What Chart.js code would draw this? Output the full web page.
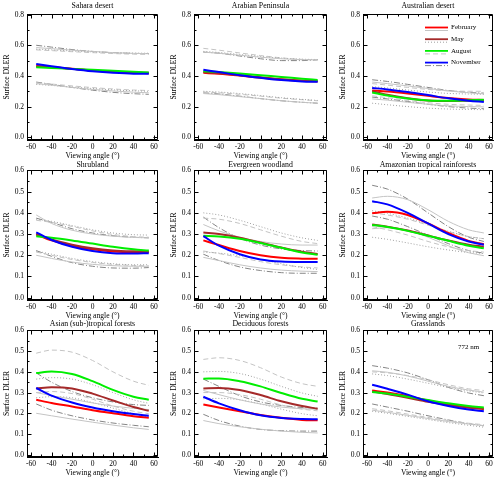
<!DOCTYPE html>
<html>
<head>
<meta charset="utf-8">
<script src="https://cdn.jsdelivr.net/npm/chart.js@4.4.1/dist/chart.umd.min.js"></script>
<style>
body { margin: 0; background: #fff; }
#wrap { position: relative; width: 500px; height: 480px; overflow: hidden; }
#wrap canvas { position: absolute; }
</style>
</head>
<body>
<div id="wrap"></div>
<script>
// viewing angles where the curves are sampled
var angles = [-55, -40, -20, 0, 20, 40, 55];
var xTicks = [-60, -40, -20, 0, 20, 40, 60];
var yTicksTop = [0, 0.2, 0.4, 0.6, 0.8];
var yTicksLow = [0, 0.1, 0.2, 0.3, 0.4, 0.5, 0.6];
var months = ['February', 'May', 'August', 'November'];
var titles = ['Sahara desert', 'Arabian Peninsula', 'Australian desert',
              'Shrubland', 'Evergreen woodland', 'Amazonian tropical rainforests',
              'Asian (sub-)tropical forests', 'Deciduous forests', 'Grasslands'];

// each: [February, May, August, November]
var saharaMid = [[0.465, 0.458, 0.447, 0.436, 0.427, 0.421, 0.418],
                 [0.462, 0.456, 0.446, 0.436, 0.428, 0.422, 0.420],
                 [0.456, 0.452, 0.446, 0.440, 0.433, 0.427, 0.423],
                 [0.478, 0.463, 0.445, 0.430, 0.420, 0.415, 0.415]];
var saharaHigh = [[0.585, 0.578, 0.568, 0.560, 0.552, 0.547, 0.545],
                  [0.575, 0.570, 0.563, 0.557, 0.552, 0.549, 0.548],
                  [0.570, 0.565, 0.558, 0.552, 0.546, 0.542, 0.540],
                  [0.600, 0.588, 0.572, 0.560, 0.552, 0.547, 0.546]];
var saharaLow = [[0.350, 0.340, 0.325, 0.312, 0.302, 0.294, 0.290],
                 [0.345, 0.338, 0.328, 0.318, 0.309, 0.303, 0.300],
                 [0.355, 0.347, 0.335, 0.324, 0.315, 0.308, 0.305],
                 [0.360, 0.345, 0.325, 0.307, 0.293, 0.284, 0.280]];

var arabiaMid = [[0.420, 0.414, 0.402, 0.388, 0.376, 0.368, 0.365],
                 [0.425, 0.418, 0.405, 0.391, 0.378, 0.369, 0.366],
                 [0.430, 0.425, 0.416, 0.405, 0.393, 0.382, 0.373],
                 [0.440, 0.425, 0.405, 0.388, 0.373, 0.364, 0.362]];
var arabiaHigh = [[0.555, 0.548, 0.535, 0.522, 0.512, 0.506, 0.505],
                  [0.560, 0.553, 0.540, 0.527, 0.516, 0.509, 0.507],
                  [0.580, 0.568, 0.550, 0.533, 0.518, 0.508, 0.505],
                  [0.555, 0.548, 0.530, 0.512, 0.500, 0.500, 0.505]];
var arabiaLow = [[0.285, 0.278, 0.265, 0.252, 0.238, 0.228, 0.222],
                 [0.300, 0.295, 0.285, 0.272, 0.258, 0.247, 0.240],
                 [0.295, 0.290, 0.280, 0.268, 0.255, 0.245, 0.238],
                 [0.290, 0.282, 0.268, 0.252, 0.238, 0.228, 0.222]];

var australiaMid = [[0.305, 0.298, 0.285, 0.270, 0.256, 0.247, 0.243],
                    [0.300, 0.277, 0.255, 0.240, 0.236, 0.238, 0.240],
                    [0.292, 0.272, 0.252, 0.240, 0.238, 0.242, 0.245],
                    [0.322, 0.312, 0.295, 0.275, 0.254, 0.238, 0.230]];
var australiaHigh = [[0.360, 0.350, 0.335, 0.318, 0.302, 0.290, 0.283],
                     [0.330, 0.322, 0.308, 0.295, 0.286, 0.282, 0.280],
                     [0.350, 0.340, 0.325, 0.312, 0.303, 0.300, 0.300],
                     [0.375, 0.364, 0.345, 0.325, 0.305, 0.293, 0.288]];
var australiaLow = [[0.250, 0.242, 0.228, 0.215, 0.205, 0.200, 0.198],
                    [0.222, 0.212, 0.200, 0.190, 0.184, 0.181, 0.180],
                    [0.270, 0.258, 0.240, 0.225, 0.215, 0.210, 0.208],
                    [0.262, 0.250, 0.233, 0.215, 0.200, 0.190, 0.186]];

var shrubMid = [[0.298, 0.270, 0.245, 0.228, 0.218, 0.215, 0.215],
                [0.300, 0.274, 0.250, 0.233, 0.223, 0.219, 0.218],
                [0.290, 0.283, 0.270, 0.255, 0.240, 0.228, 0.222],
                [0.308, 0.272, 0.240, 0.220, 0.210, 0.208, 0.210]];
var shrubHigh = [[0.390, 0.350, 0.318, 0.300, 0.290, 0.284, 0.282],
                 [0.370, 0.360, 0.340, 0.320, 0.305, 0.297, 0.295],
                 [0.365, 0.355, 0.336, 0.315, 0.298, 0.288, 0.285],
                 [0.375, 0.355, 0.325, 0.305, 0.292, 0.285, 0.282]];
var shrubLow = [[0.200, 0.185, 0.168, 0.157, 0.151, 0.148, 0.148],
                [0.220, 0.205, 0.185, 0.170, 0.160, 0.155, 0.155],
                [0.215, 0.200, 0.180, 0.166, 0.157, 0.152, 0.150],
                [0.222, 0.195, 0.165, 0.148, 0.140, 0.139, 0.142]];

var evergreenMid = [[0.270, 0.248, 0.220, 0.200, 0.188, 0.184, 0.183],
                    [0.307, 0.300, 0.283, 0.260, 0.237, 0.216, 0.206],
                    [0.292, 0.289, 0.278, 0.258, 0.235, 0.213, 0.202],
                    [0.290, 0.245, 0.205, 0.180, 0.170, 0.168, 0.168]];
var evergreenHigh = [[0.345, 0.315, 0.285, 0.265, 0.253, 0.248, 0.248],
                     [0.400, 0.390, 0.365, 0.335, 0.305, 0.282, 0.270],
                     [0.375, 0.370, 0.350, 0.320, 0.290, 0.265, 0.255],
                     [0.380, 0.330, 0.280, 0.248, 0.230, 0.222, 0.220]];
var evergreenLow = [[0.190, 0.175, 0.155, 0.140, 0.130, 0.125, 0.123],
                    [0.215, 0.210, 0.198, 0.180, 0.160, 0.142, 0.133],
                    [0.220, 0.208, 0.190, 0.170, 0.155, 0.145, 0.140],
                    [0.205, 0.175, 0.145, 0.128, 0.118, 0.115, 0.115]];

var amazonMid = [[0.398, 0.405, 0.390, 0.350, 0.305, 0.268, 0.252],
                 [0.345, 0.335, 0.317, 0.293, 0.270, 0.250, 0.240],
                 [0.343, 0.333, 0.315, 0.292, 0.268, 0.245, 0.233],
                 [0.455, 0.440, 0.400, 0.350, 0.300, 0.265, 0.250]];
var amazonHigh = [[0.470, 0.478, 0.462, 0.415, 0.360, 0.320, 0.305],
                  [0.410, 0.398, 0.375, 0.345, 0.313, 0.288, 0.278],
                  [0.400, 0.390, 0.370, 0.342, 0.312, 0.288, 0.278],
                  [0.530, 0.512, 0.465, 0.400, 0.335, 0.285, 0.265]];
var amazonLow = [[0.325, 0.330, 0.318, 0.285, 0.245, 0.212, 0.198],
                 [0.285, 0.275, 0.258, 0.240, 0.225, 0.213, 0.208],
                 [0.335, 0.320, 0.295, 0.265, 0.240, 0.222, 0.215],
                 [0.385, 0.370, 0.335, 0.295, 0.255, 0.222, 0.210]];

var asiaMid = [[0.265, 0.250, 0.233, 0.215, 0.200, 0.186, 0.178],
               [0.320, 0.326, 0.320, 0.295, 0.262, 0.230, 0.212],
               [0.394, 0.402, 0.390, 0.355, 0.313, 0.280, 0.265],
               [0.322, 0.285, 0.252, 0.228, 0.210, 0.196, 0.188]];
var asiaHigh = [[0.300, 0.285, 0.268, 0.250, 0.235, 0.224, 0.218],
                [0.365, 0.372, 0.365, 0.338, 0.300, 0.265, 0.248],
                [0.490, 0.505, 0.495, 0.455, 0.400, 0.355, 0.335],
                [0.395, 0.350, 0.305, 0.275, 0.255, 0.242, 0.238]];
var asiaLow = [[0.200, 0.188, 0.172, 0.157, 0.143, 0.130, 0.122],
               [0.275, 0.280, 0.275, 0.252, 0.225, 0.198, 0.182],
               [0.300, 0.305, 0.295, 0.268, 0.235, 0.210, 0.198],
               [0.245, 0.215, 0.188, 0.168, 0.153, 0.142, 0.135]];

var deciduousMid = [[0.242, 0.228, 0.210, 0.192, 0.178, 0.168, 0.166],
                    [0.320, 0.322, 0.312, 0.288, 0.258, 0.235, 0.222],
                    [0.367, 0.368, 0.355, 0.330, 0.298, 0.270, 0.257],
                    [0.280, 0.248, 0.215, 0.190, 0.177, 0.172, 0.171]];
var deciduousHigh = [[0.310, 0.290, 0.265, 0.245, 0.230, 0.222, 0.220],
                     [0.400, 0.402, 0.392, 0.365, 0.330, 0.298, 0.282],
                     [0.460, 0.468, 0.455, 0.420, 0.375, 0.343, 0.330],
                     [0.365, 0.330, 0.285, 0.255, 0.238, 0.228, 0.225]];
var deciduousLow = [[0.165, 0.150, 0.135, 0.123, 0.114, 0.108, 0.105],
                    [0.270, 0.272, 0.265, 0.245, 0.220, 0.198, 0.188],
                    [0.300, 0.300, 0.290, 0.268, 0.240, 0.220, 0.212],
                    [0.195, 0.165, 0.138, 0.122, 0.116, 0.114, 0.114]];

var grassMid = [[0.310, 0.300, 0.283, 0.262, 0.243, 0.228, 0.220],
                [0.305, 0.293, 0.275, 0.256, 0.240, 0.228, 0.222],
                [0.303, 0.295, 0.280, 0.264, 0.248, 0.235, 0.228],
                [0.338, 0.318, 0.290, 0.258, 0.235, 0.218, 0.210]];
var grassHigh = [[0.405, 0.398, 0.380, 0.355, 0.330, 0.312, 0.302],
                 [0.390, 0.382, 0.365, 0.345, 0.325, 0.308, 0.298],
                 [0.400, 0.395, 0.382, 0.362, 0.338, 0.318, 0.310],
                 [0.430, 0.418, 0.395, 0.362, 0.325, 0.298, 0.285]];
var grassLow = [[0.215, 0.205, 0.190, 0.175, 0.160, 0.148, 0.140],
                [0.210, 0.200, 0.185, 0.170, 0.155, 0.142, 0.133],
                [0.222, 0.212, 0.196, 0.180, 0.165, 0.152, 0.145],
                [0.245, 0.230, 0.210, 0.188, 0.168, 0.150, 0.140]];

var panels = [
    [saharaMid, saharaHigh, saharaLow],
    [arabiaMid, arabiaHigh, arabiaLow],
    [australiaMid, australiaHigh, australiaLow],
    [shrubMid, shrubHigh, shrubLow],
    [evergreenMid, evergreenHigh, evergreenLow],
    [amazonMid, amazonHigh, amazonLow],
    [asiaMid, asiaHigh, asiaLow],
    [deciduousMid, deciduousHigh, deciduousLow],
    [grassMid, grassHigh, grassLow]
];

// styles
var monthColors = ['#ff0000', '#a52a2a', '#00ee00', '#0000ff'];
var envColors = ['#c4c4c4', '#a0a0a0', '#c4c4c4', '#858585'];
var envDash = [[], [1, 2], [5, 3], [6, 2, 1, 2]];
var FONT = 'Liberation Serif';

// plot area placement (page pixels)
var colLeft = [27, 194, 363];
var colRight = [158, 327, 493];
var rowTop = [14, 170, 330];
var rowBottom = [140, 300, 457];
var titleGap = [8, 5.5, 6];
var Y_W = 27, TOP = 14, X_H = 22, RIGHT = 6;

function pts(vals) {
    return angles.map(function (a, i) { return { x: a, y: vals[i] }; });
}

function seg(c, x0, y0, x1, y1) {
    c.moveTo(x0, y0);
    c.lineTo(x1, y1);
}

function framePlugin(idx) {
    var row = Math.floor(idx / 3);
    return {
        id: 'frame' + idx,
        afterDatasetsDraw: function (chart) {
            var c = chart.ctx, a = chart.chartArea;
            var xs = chart.scales.x, ys = chart.scales.y;
            var L = Math.round(a.left) + 0.5, R = Math.round(a.right) - 0.5;
            var T = Math.round(a.top) + 0.5, B = Math.round(a.bottom) - 0.5;
            c.save();
            c.globalAlpha = 1;
            c.globalCompositeOperation = 'source-over';
            c.setLineDash([]);
            c.lineWidth = 1;
            c.strokeStyle = '#000000';
            c.beginPath();
            seg(c, L, T, R, T);
            seg(c, R, T, R, B);
            seg(c, R, B, L, B);
            seg(c, L, B, L, T);
            // x ticks, inward on bottom and top
            for (var v = -60; v <= 60; v += 10) {
                var px = Math.round(xs.getPixelForValue(v)) + 0.5;
                var len = (v % 20 === 0) ? 4 : 2;
                seg(c, px, B, px, B - len);
                seg(c, px, T, px, T + len);
            }
            // y ticks, inward on left and right
            var step = row === 0 ? 0.2 : 0.1;
            var nMinor = row === 0 ? 8 : 12;
            for (var k = 0; k <= nMinor; k++) {
                var py = Math.round(ys.getPixelForValue(k * step / 2)) + 0.5;
                var l2 = (k % 2 === 0) ? 4 : 2;
                seg(c, L, py, L + l2, py);
                seg(c, R, py, R - l2, py);
            }
            c.stroke();
            c.restore();
        },
        afterDraw: function (chart) {
            var c = chart.ctx, a = chart.chartArea;
            var xs = chart.scales.x, ys = chart.scales.y;
            c.save();
            c.fillStyle = '#000';
            c.textAlign = 'center';
            c.textBaseline = 'middle';
            c.font = '7.8px "' + FONT + '"';
            c.fillText(titles[idx], (a.left + a.right) / 2, a.top - titleGap[row]);
            c.font = '7.6px "' + FONT + '"';
            c.fillText('Viewing angle (\u00b0)', (a.left + a.right) / 2, a.bottom + 15.5);
            c.save();
            c.translate(a.left - 20, (a.top + a.bottom) / 2);
            c.rotate(-Math.PI / 2);
            c.fillText('Surface DLER', 0, 0);
            c.restore();

            if (idx === 8) {
                c.font = '7px "' + FONT + '"';
                c.fillText('772 nm', xs.getPixelForValue(40), ys.getPixelForValue(0.52));
            }
            if (idx === 2) {
                c.font = '7px "' + FONT + '"';
                c.textAlign = 'left';
                for (var m = 0; m < 4; m++) {
                    var ly = a.top + 13.5 + m * 11.7;
                    var x0 = a.left + 62, x1 = a.left + 85;
                    c.lineWidth = 1.8;
                    c.strokeStyle = monthColors[m];
                    c.setLineDash([]);
                    c.beginPath(); c.moveTo(x0, ly); c.lineTo(x1, ly); c.stroke();
                    c.lineWidth = 1;
                    c.strokeStyle = envColors[m];
                    c.setLineDash(envDash[m]);
                    c.beginPath(); c.moveTo(x0, ly + 3); c.lineTo(x1, ly + 3); c.stroke();
                    c.fillText(months[m], a.left + 88, ly);
                }
            }
            c.restore();
        }
    };
}

var wrap = document.getElementById('wrap');

panels.forEach(function (p, idx) {
    var row = Math.floor(idx / 3), col = idx % 3;
    var plotW = colRight[col] - colLeft[col];
    var plotH = rowBottom[row] - rowTop[row];
    var cv = document.createElement('canvas');
    cv.width = Y_W + plotW + RIGHT;
    cv.height = TOP + plotH + X_H;
    cv.style.left = (colLeft[col] - Y_W) + 'px';
    cv.style.top = (rowTop[row] - TOP) + 'px';
    wrap.appendChild(cv);

    var datasets = [];
    var order = [3, 2, 1, 0];
    order.forEach(function (m) {
        datasets.push({ data: pts(p[0][m]), borderColor: monthColors[m], borderWidth: 2 });
    });
    for (var m = 0; m < 4; m++) {
        datasets.push({ data: pts(p[1][m]), borderColor: envColors[m], borderDash: envDash[m], borderWidth: 1 });
        datasets.push({ data: pts(p[2][m]), borderColor: envColors[m], borderDash: envDash[m], borderWidth: 1 });
    }

    var yTicks = row === 0 ? yTicksTop : yTicksLow;

    new Chart(cv.getContext('2d'), {
        type: 'line',
        data: { datasets: datasets },
        options: {
            responsive: false,
            animation: false,
            events: [],
            layout: { padding: { left: 0, top: TOP, right: RIGHT, bottom: 0 } },
            elements: {
                point: { radius: 0 },
                line: { tension: 0.4, cubicInterpolationMode: 'monotone', fill: false }
            },
            plugins: { legend: { display: false }, tooltip: { enabled: false } },
            scales: {
                x: {
                    type: 'linear',
                    min: -64, max: 64,
                    grid: { display: false, drawTicks: false },
                    border: { display: true, color: '#000', width: 1 },
                    afterBuildTicks: function (s) { s.ticks = xTicks.map(function (v) { return { value: v }; }); },
                    afterFit: function (s) { s.height = X_H; },
                    ticks: {
                        autoSkip: false, maxRotation: 0, padding: 3, color: '#000',
                        font: { family: FONT, size: 7.5 },
                        callback: function (v) { return String(v); }
                    }
                },
                y: {
                    type: 'linear',
                    min: row === 0 ? -0.018 : -0.011,
                    max: row === 0 ? 0.804 : 0.602,
                    grid: { display: false, drawTicks: false },
                    border: { display: true, color: '#000', width: 1 },
                    afterBuildTicks: function (s) { s.ticks = yTicks.map(function (v) { return { value: v }; }); },
                    afterFit: function (s) { s.width = Y_W; },
                    ticks: {
                        autoSkip: false, padding: 3, color: '#000',
                        font: { family: FONT, size: 7.5 },
                        callback: function (v) { return v.toFixed(1); }
                    }
                }
            }
        },
        plugins: [framePlugin(idx)]
    });
});
</script>
</body>
</html>
